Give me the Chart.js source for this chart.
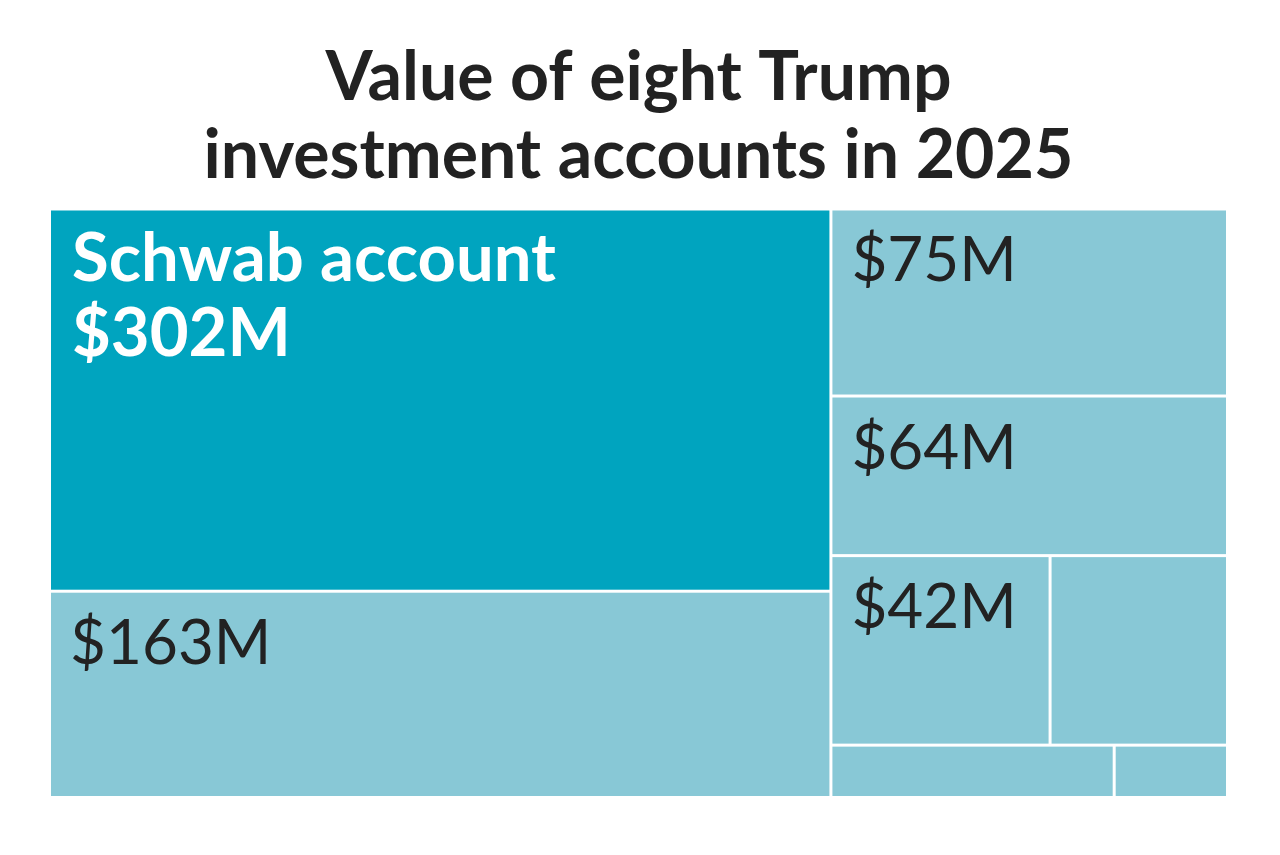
<!DOCTYPE html>
<html>
<head>
<meta charset="utf-8">
<script src="https://cdn.jsdelivr.net/npm/chart.js@4.4.1/dist/chart.umd.min.js"></script>
<style>
  html, body { margin: 0; padding: 0; background: #fff; }
  #wrap { width: 1280px; height: 855px; }
</style>
</head>
<body>
<div id="wrap"><canvas id="c" width="1280" height="855"></canvas></div>
<script>
// ---------- data ----------
const accounts = ['Schwab account', 'Account 2', 'Account 3', 'Account 4',
                  'Account 5', 'Account 6', 'Account 7', 'Account 8'];
const values   = [302, 163, 75, 64, 42, 34, 15, 6];          // $M
const labels   = [['Schwab account', '$302M'], ['$163M'], ['$75M'], ['$64M'],
                  ['$42M'], [], [], []];
// how the tiles nest: columns -> rows -> columns ... (indexes into values)
const groups   = [[0, 1], [2, 3, [4, 5], [6, 7]]];

const FONT = 'Lato, "Noto Sans", sans-serif';
const DARK = '#222222', MAIN = '#00a4bf', LIGHT = '#88c8d6';

// ---------- slice-and-dice layout, in 0..1 axis units ----------
const sumOf = g => Array.isArray(g) ? g.reduce((s, c) => s + sumOf(c), 0) : values[g];
function layout (g, x0, y0, x1, y1, horiz, out) {
  if (!Array.isArray(g)) { out[g] = { x0, y0, x1, y1 }; return out; }
  const tot = sumOf(g);
  let pos = horiz ? x0 : y0;
  g.forEach(c => {
    const f = sumOf(c) / tot;
    if (horiz) { const w = (x1 - x0) * f; layout(c, pos, y0, pos + w, y1, false, out); pos += w; }
    else       { const h = (y1 - y0) * f; layout(c, x0, pos, x1, pos + h, true,  out); pos += h; }
  });
  return out;
}
const tiles = layout(groups, 0, 0, 1, 1, true, []);

// ---------- draw tiles through the chart scales ----------
const treemapPlugin = {
  id: 'treemap',
  afterDatasetsDraw (chart) {
    const { ctx, scales: { x, y } } = chart;
    const gap = 1.5;
    ctx.save();
    tiles.forEach((t, i) => {
      const px0 = x.getPixelForValue(t.x0) + gap, px1 = x.getPixelForValue(t.x1) - gap;
      const py0 = y.getPixelForValue(t.y0) + gap, py1 = y.getPixelForValue(t.y1) - gap;
      ctx.fillStyle = i === 0 ? MAIN : LIGHT;
      ctx.fillRect(px0, py0, px1 - px0, py1 - py0);

      ctx.textAlign = 'left';
      ctx.textBaseline = 'alphabetic';
      labels[i].forEach((line, k) => {
        ctx.fillStyle = i === 0 ? '#ffffff' : DARK;
        ctx.font = i === 0 ? 'bold 67px ' + FONT : '62px ' + FONT;
        ctx.fillText(line, px0 + (i === 0 ? 21 : 19), py0 + 71 + k * 75);
      });
    });
    ctx.restore();
  }
};

new Chart(document.getElementById('c'), {
  type: 'scatter',
  data: { datasets: [{ label: 'accounts', data: [] }] },
  options: {
    responsive: false,
    animation: false,
    layout: { padding: { left: 49.5, right: 52.5, top: 19, bottom: 57.5 } },
    scales: {
      x: { display: false, min: 0, max: 1 },
      y: { display: false, min: 0, max: 1, reverse: true }
    },
    plugins: {
      legend: { display: false },
      tooltip: { enabled: false },
      title: {
        display: true,
        text: ['Value of eight Trump', 'investment accounts in 2025'],
        color: DARK,
        font: { family: FONT, size: 68, weight: 'bold', lineHeight: 1.147 },
        padding: { top: 20, bottom: 14 }
      }
    }
  },
  plugins: [treemapPlugin]
});
</script>
</body>
</html>
